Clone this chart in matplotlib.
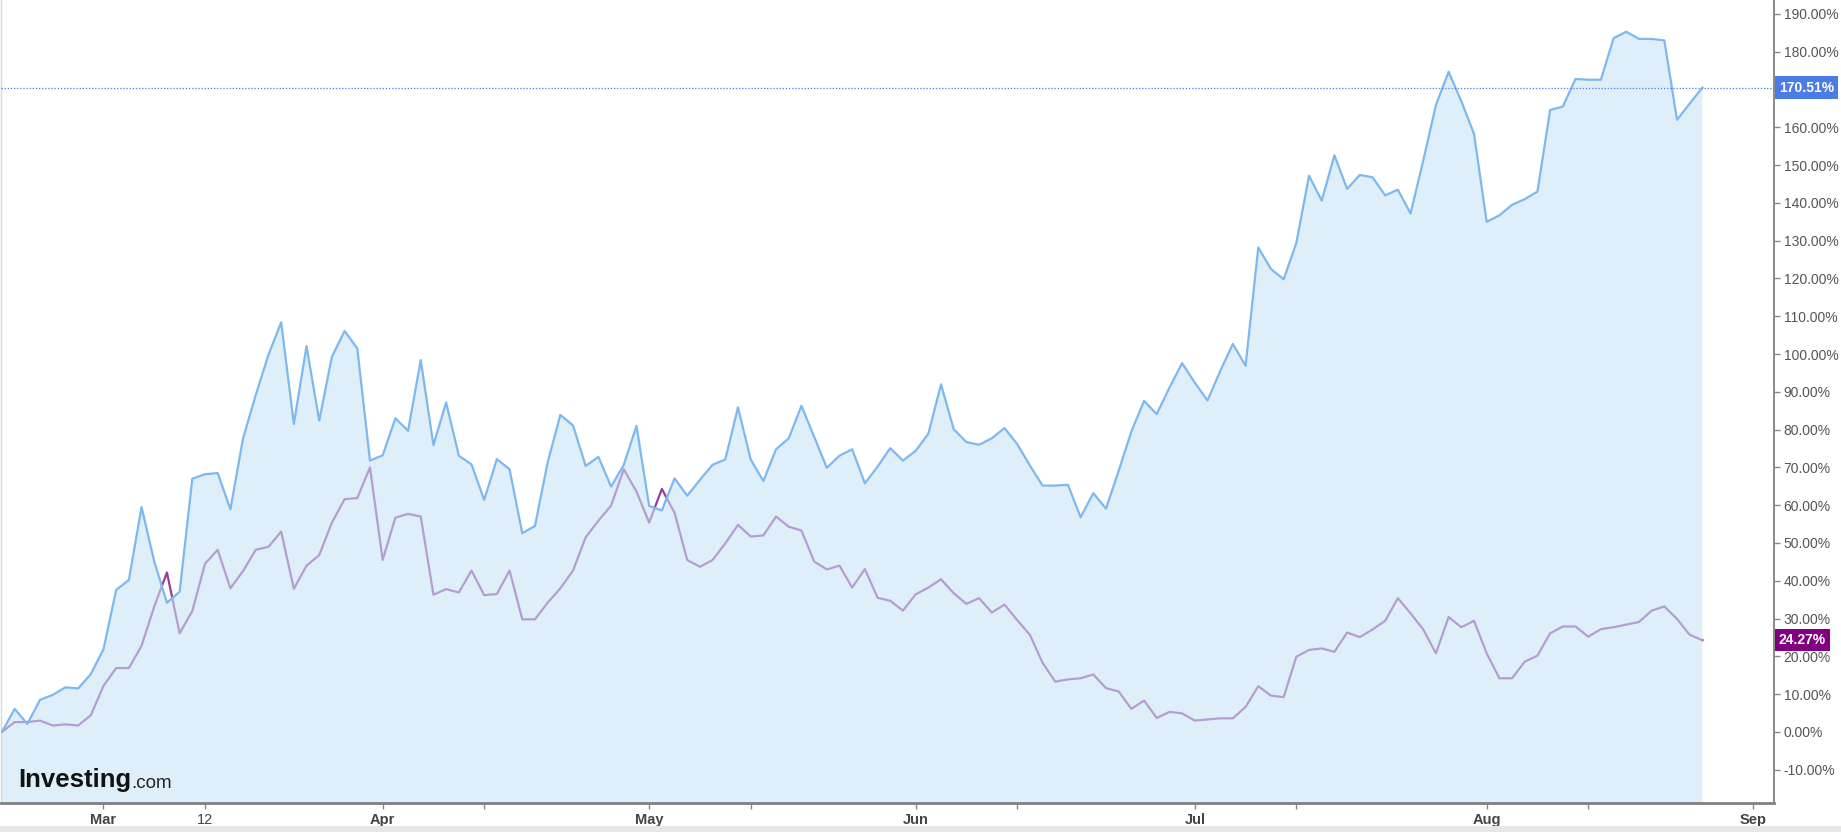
import matplotlib
matplotlib.use('Agg')
import matplotlib.pyplot as plt
import matplotlib.transforms as mtransforms
from matplotlib.patches import Rectangle
import numpy as np

plt.rcParams['font.family'] = ['Liberation Sans', 'DejaVu Sans']

# cumulative % change, one value per trading day
main_pct = [
    0.0, 6.1, 2.1, 8.5, 9.8, 11.8, 11.5, 15.3, 21.9, 37.6,
    40.2, 59.5, 45.1, 34.2, 37.1, 67.0, 68.2, 68.5, 58.9, 77.7,
    89.2, 99.8, 108.4, 81.5, 102.1, 82.4, 99.3, 106.1, 101.5, 71.8,
    73.2, 83.0, 79.7, 98.4, 75.9, 87.2, 73.1, 70.8, 61.4, 72.2,
    69.5, 52.6, 54.5, 71.3, 83.9, 81.1, 70.4, 72.8, 64.9, 70.7,
    81.0, 59.8, 58.6, 67.1, 62.5, 66.7, 70.7, 72.1, 85.9, 72.1,
    66.4, 74.8, 77.7, 86.3, 78.1, 69.9, 73.1, 74.8, 65.8, 70.2,
    75.1, 71.8, 74.4, 78.9, 92.0, 80.1, 76.7, 76.0, 77.7, 80.4,
    76.2, 70.5, 65.2, 65.2, 65.4, 56.8, 63.2, 59.1, 69.1, 79.5,
    87.6, 84.1, 91.1, 97.6, 92.4, 87.7, 95.5, 102.7, 96.9, 128.2,
    122.5, 119.8, 129.4, 147.2, 140.6, 152.6, 143.7, 147.4, 146.8, 142.0,
    143.5, 137.2, 151.2, 165.9, 174.7, 166.9, 158.3, 135.0, 136.7, 139.5,
    141.0, 143.0, 164.6, 165.5, 172.8, 172.6, 172.6, 183.6, 185.3, 183.4,
    183.4, 183.0, 162.0, 166.3, 170.51,
]

compare_pct = [
    0.0, 2.6, 2.6, 3.0, 1.7, 2.0, 1.7, 4.4, 12.2, 16.9,
    16.9, 22.8, 33.2, 42.2, 26.1, 32.0, 44.5, 48.2, 38.0, 42.6,
    48.2, 49.0, 53.0, 37.9, 44.0, 46.8, 55.4, 61.6, 61.9, 70.0,
    45.5, 56.7, 57.7, 57.0, 36.3, 37.8, 36.9, 42.7, 36.2, 36.5,
    42.7, 29.8, 29.8, 34.2, 38.0, 42.7, 51.5, 55.9, 59.9, 69.5,
    63.6, 55.4, 64.3, 58.0, 45.5, 43.7, 45.5, 49.9, 54.8, 51.7,
    52.0, 57.0, 54.3, 53.3, 45.1, 43.0, 44.0, 38.2, 43.1, 35.5,
    34.7, 32.1, 36.4, 38.2, 40.4, 36.7, 33.9, 35.4, 31.6, 33.7,
    29.6, 25.7, 18.3, 13.3, 13.9, 14.2, 15.2, 11.6, 10.7, 6.1,
    8.3, 3.7, 5.3, 4.9, 3.0, 3.3, 3.6, 3.6, 6.6, 12.1,
    9.6, 9.2, 19.9, 21.7, 22.1, 21.2, 26.3, 25.1, 27.1, 29.4,
    35.4, 31.4, 27.1, 20.8, 30.4, 27.7, 29.4, 20.8, 14.2, 14.2,
    18.6, 20.2, 26.1, 27.9, 27.9, 25.2, 27.2, 27.7, 28.4, 29.1,
    32.1, 33.2, 29.9, 25.7, 24.27,
]

# trading-day index of each date label
tick_days = [8, 16, 30, 51, 72, 94, 117, 138]
tick_labels = ['Mar', '12', 'Apr', 'May', 'Jun', 'Jul', 'Aug', 'Sep']
mid_days = [38, 59, 80, 102, 125]

y_ticks = list(range(-10, 191, 10))

main_last = main_pct[-1]
compare_last = compare_pct[-1]

x = np.arange(len(main_pct))

fig = plt.figure(figsize=(18.41, 8.32), dpi=100)
ax = fig.add_axes([0.0008, 0.0349, 0.9628, 0.9651])

# purple goes under the fill so it looks pale where the blue area covers it
ax.plot(x, compare_pct, color='#9a3c9e', lw=1.6, zorder=1)
ax.fill_between(x, main_pct, -40, color='#c9e4f6', alpha=0.58, lw=0, zorder=2)
ax.plot(x, main_pct, color='#7db8ee', lw=1.6, zorder=3)
ax.axhline(main_last, color='#4b7be5', ls=(0, (1, 1.5)), lw=0.9, zorder=4)

ax.set_xlim(-0.04, 139.64)
ax.set_ylim(-18.8, 193.7)

ax.yaxis.tick_right()
ax.set_yticks(y_ticks)
# the 170% label sits behind the last-value badge
ax.set_yticklabels(['' if v == 170 else '%.2f%%' % v for v in y_ticks])
ax.tick_params(axis='y', length=4, width=1, color='#888888', labelcolor='#555555',
               labelsize=10, pad=3)

ax.set_xticks(tick_days)
ax.set_xticklabels(tick_labels)
ax.set_xticks(mid_days, minor=True)
ax.tick_params(axis='x', which='both', length=4, width=1, color='#888888',
               labelcolor='#444444', labelsize=10.5, pad=3)
for lbl in ax.get_xticklabels():
    if lbl.get_text() != '12':
        lbl.set_fontweight('bold')

ax.spines['top'].set_visible(False)
ax.spines['left'].set_color('#d8d8d8')
ax.spines['left'].set_linewidth(1)
ax.spines['right'].set_color('#808080')
ax.spines['right'].set_linewidth(1.3)
ax.spines['bottom'].set_color('#808080')
ax.spines['bottom'].set_linewidth(2)

trans = mtransforms.blended_transform_factory(ax.transAxes, ax.transData)
ax.annotate('%.2f%%' % main_last, xy=(1.0, main_last), xycoords=trans,
            xytext=(3.5, 0), textcoords='offset points', ha='left', va='center',
            color='white', fontsize=10, fontweight='bold', annotation_clip=False,
            bbox=dict(boxstyle='square,pad=0.3', fc='#4b7be5', ec='none'))
ax.annotate('%.2f%%' % compare_last, xy=(1.0, compare_last), xycoords=trans,
            xytext=(3.5, 0), textcoords='offset points', ha='left', va='center',
            color='white', fontsize=10, fontweight='bold', annotation_clip=False,
            bbox=dict(boxstyle='square,pad=0.3', fc='#800080', ec='none'))

# watermark
logo = fig.text(18 / 1841, 1 - 787 / 832, 'Investing', fontsize=18.5, fontweight='bold',
                color='#111111', ha='left', va='baseline')
ax.annotate('.com', xy=(1, 0), xycoords=logo, xytext=(0, 0), textcoords='offset points',
            ha='left', va='bottom', fontsize=13.5, color='#222222', annotation_clip=False)

# bottom scroll strip
fig.add_artist(Rectangle((0, 0), 1, 6 / 832, transform=fig.transFigure,
                         color='#e6e6e6', lw=0))

fig.savefig('out.png', dpi=100)
